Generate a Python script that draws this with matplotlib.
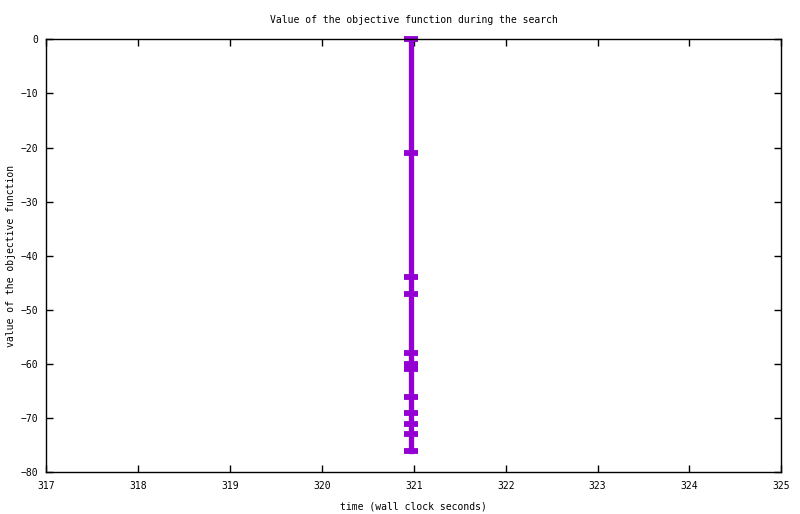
import matplotlib
matplotlib.use("Agg")
import matplotlib.pyplot as plt

# time of each recorded value (all at the same wall clock second) and objective values
times = [320.97] * 12
objective = [0, -21, -44, -47, -58, -60, -61, -66, -69, -71, -73, -76]
x_ticks = [317, 318, 319, 320, 321, 322, 323, 324, 325]
y_ticks = [0, -10, -20, -30, -40, -50, -60, -70, -80]

plt.rcParams['font.family'] = ['DejaVu Sans Mono']
plt.rcParams['font.size'] = 7

fig = plt.figure(figsize=(8, 5.14), dpi=100)
ax = fig.add_axes([46.3 / 800, 1 - 472.3 / 514, 735 / 800, 433 / 514])

ax.plot(times, objective, color='#9400d3', linewidth=3.8, marker='_',
        markersize=9.5, markeredgewidth=4.2, clip_on=False)

ax.set_xlim(317, 325)
ax.set_ylim(-80, 0)
ax.set_xticks(x_ticks)
ax.set_yticks(y_ticks)
ax.tick_params(direction='in', length=5, width=1, top=True, right=True,
               labelsize=7, pad=6, color='black')
for s in ax.spines.values():
    s.set_linewidth(1)

ax.set_title('Value of the objective function during the search', fontsize=7, pad=12)
ax.set_xlabel('time (wall clock seconds)', fontsize=7, labelpad=8)
ax.set_ylabel('value of the objective function', fontsize=7, labelpad=3)

fig.savefig('out.png', dpi=100)
plt.close(fig)
